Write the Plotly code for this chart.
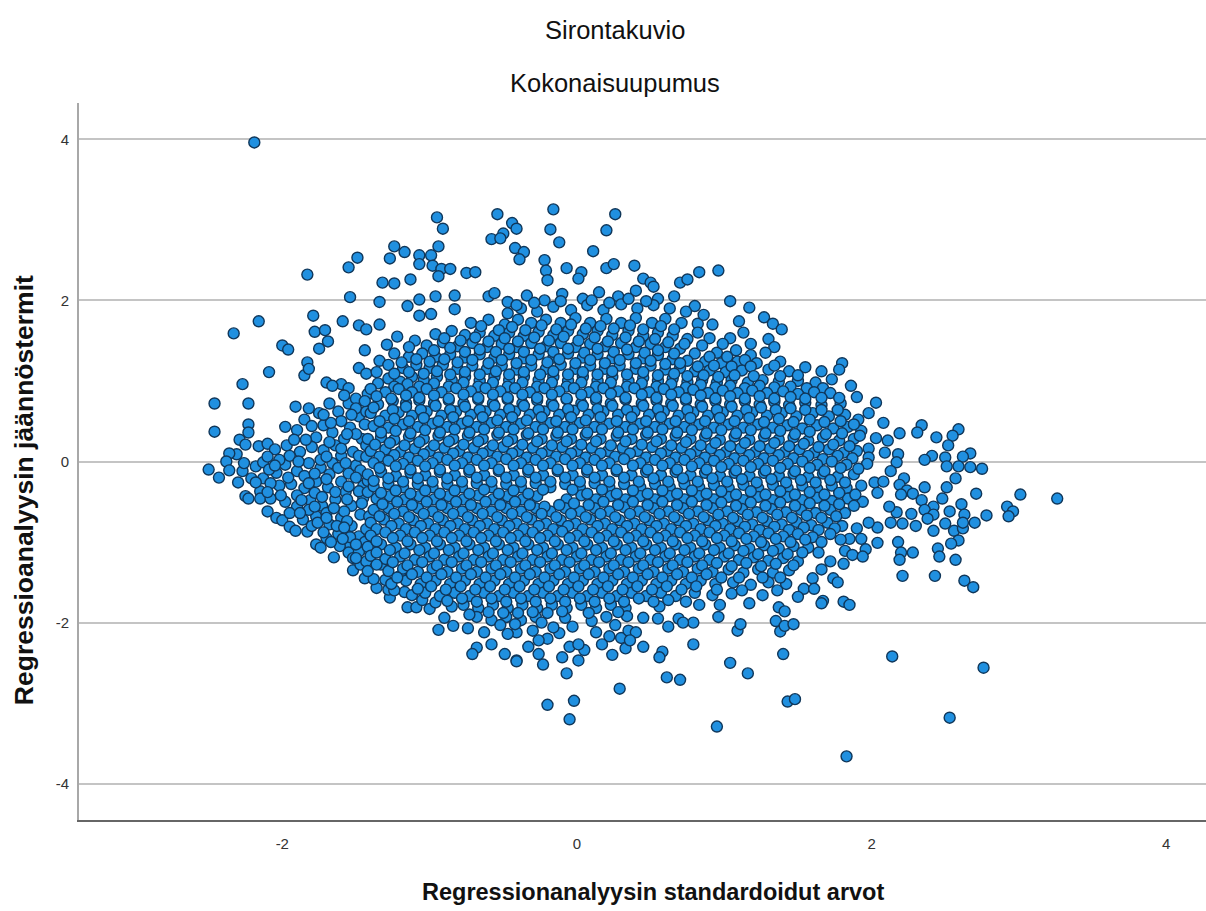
import plotly.graph_objects as go

outer_upper = [(-2.19,3.96),(-1.83,2.32),(-1.55,2.41),(-1.49,2.53),(-1.24,2.67),(-1.27,2.52),(-1.32,2.22),(-1.24,2.21),(-1.54,2.04),(-1.34,1.98),(-1.79,1.81),(-2.16,1.74),(-2.33,1.59),(-1.78,1.61),(-1.71,1.63),(-1.69,1.49),(-1.75,1.40),(-1.59,1.74),(-1.48,1.69),(-1.43,1.64),(-1.34,1.70),(-2.0,1.44),(-1.96,1.39),(-1.83,1.23),(-1.85,1.07),(-1.82,1.15),(-2.09,1.11),(-2.27,.96),(-1.29,1.45),(-1.44,1.38),(-1.34,1.25),(-1.48,1.16),(-1.43,1.09),(-1.36,1.11),(-1.70,.98),(-1.60,.96),(-1.55,.91),(-1.66,.94),
(-.16,3.13),(.26,3.07),(-.95,3.03),(-.91,2.89),(-.54,3.07),(-.44,2.96),(-.41,2.89),(-.50,2.83),(-.58,2.76),(-.52,2.77),(-.18,2.88),(-.12,2.72),(.20,2.87),(.11,2.61),(-.42,2.65),(-.36,2.6),(-.39,2.51),(-.94,2.67),(-1.17,2.6),(-1.07,2.56),(-1.07,2.45),(-.99,2.56),(-.98,2.43),(-.92,2.39),(-.94,2.30),(-.86,2.39),(-.75,2.34),(-.69,2.35),(-1.13,2.26),(-1.07,2.01),(-.96,2.05),(-.83,2.06),(-1.15,1.93),(-.83,1.89),(-1.07,1.81),(-.99,1.83),(-.60,2.05),(-.56,2.09),(-.22,2.50),(-.21,2.37),(-.20,2.25),(-.07,2.40),(.03,2.35),(.01,2.27),(.20,2.40),(.25,2.45),(.39,2.43),(.45,2.27),(.50,2.22),(.52,2.17),(.70,2.22),(.75,2.26),(.83,2.35),(.96,2.37),(1.04,1.99),(1.17,1.91),(.80,1.93),(1.27,1.79),(1.33,1.71),(1.39,1.64),(1.13,1.60),(.90,1.53),(1.04,1.53),(.95,1.35),(.82,1.71),(.82,1.60),(.99,1.46),(1.30,1.52),(1.34,1.42),(1.28,1.35)]

outer_right = [(1.80,1.22),(1.78,1.14),(1.66,1.12),(1.55,1.17),(1.73,1.02),(1.86,.94),(1.90,.80),(2.03,.73),(1.98,.60),(2.08,.48),(2.19,.35),(2.03,.29),(2.11,.26),(1.98,.16),(2.09,.11),(2.18,.09),(2.17,-.01),(1.98,.05),(1.97,-.03),(2.34,.45),(2.31,.36),(2.44,.30),(2.59,.40),(2.55,.32),(2.52,.20),(2.41,.07),(2.36,.02),(2.50,.05),(2.51,-.06),(2.67,.10),(2.62,.06),(2.67,-.07),(2.59,-.06),(2.75,-.09),(2.13,-.12),(2.57,-.21),(2.02,-.26),(2.08,-.25),(2.22,-.21),(2.19,-.29),(2.36,-.32),(2.51,-.32),(2.24,-.36),(2.28,-.40),(2.20,-.41),(2.04,-.39),(2.71,-.40),(3.01,-.41),(3.26,-.46),(2.48,-.46),(2.34,-.48),(2.92,-.56),(2.96,-.62),(2.93,-.68),(2.78,-.67),(2.70,-.76),(2.61,-.53),(2.63,-.66),(2.53,-.62),(2.42,-.56),(2.36,-.60),(2.42,-.66),(2.38,-.71),(2.27,-.65),(2.17,-.63),(2.12,-.56),(2.13,-.76),(2.21,-.77),(2.30,-.80),(2.42,-.86),(2.50,-.77),(2.56,-.86),(2.62,-.83),(2.62,-.76),(2.04,-.82),(1.98,-.76),(1.90,-.83),(2.18,-1.0),(2.04,-1.01),(1.93,-.96),(1.85,-.96),(1.79,-.97),(2.59,-.98),(2.54,-1.02),(2.45,-1.08),(2.46,-1.18),(2.57,-1.22),(2.28,-1.13),(2.20,-1.13),(2.19,-1.22),(2.21,-1.42),(2.43,-1.42),(2.63,-1.48),(2.69,-1.56),(1.96,-1.09),(1.82,-1.11),(1.87,-1.16),(1.94,-1.18),(1.72,-1.24),(1.64,-1.13),(1.81,-1.27),(1.66,-1.34),(1.74,-1.45),(1.77,-1.50),(1.60,-1.45),(1.54,-1.58),(1.61,-1.58),(1.67,-1.73),(1.81,-1.74),(1.85,-1.78)]

outer_lower = [(-.20,-3.02),(-.02,-2.97),(-.05,-3.20),(.29,-2.82),(.61,-2.68),(.70,-2.71),(-.07,-2.63),(-.23,-2.52),(.01,-2.47),(-.41,-2.47),(-.10,-2.43),(.05,-2.34),(.24,-2.40),(.33,-2.32),(.45,-2.30),(.58,-2.36),(.56,-2.43),(.79,-2.27),(1.04,-2.50),(1.16,-2.63),(1.40,-2.39),(1.09,-2.10),(1.11,-2.02),(1.35,-1.98),(1.38,-2.11),(1.41,-2.04),(1.47,-2.02),(1.43,-2.98),(1.48,-2.95),(.95,-3.29),(1.83,-3.66),(2.14,-2.42),(2.53,-3.18),(2.76,-2.56),(-.49,-2.39),(-.26,-2.39),(-.05,-2.30),(.01,-2.27),(.45,-1.94),(.96,-1.93),(.79,-2.0),(.62,-2.05),(.69,-1.95),(.72,-2.0),(1.17,-1.76),(1.37,-1.81),(1.41,-1.86),(1.66,-1.76),(.83,-1.78),(.97,-1.78),(.22,-2.17),(.30,-2.19),(.26,-2.03),(.13,-2.12),(-.12,-2.13),(.35,-2.10),(-.03,-2.05),(.10,-1.98),(.40,-2.12),(-.30,-2.10),(.17,-2.27),(.36,-2.22)]

outer_left = [(-2.50,-.10),(-2.43,-.20),(-2.46,.37),(-2.46,.72),(-2.23,.72),(-1.91,.68),(-2.23,.46),(-2.23,.36),(-2.29,.27),(-2.25,.21),(-2.16,.19),(-2.10,.22),(-2.05,.15),(-2.31,.09),(-2.36,.10),(-2.38,0),(-2.36,-.11),(-2.27,-.12),(-2.30,-.26),(-2.21,-.21),(-2.18,-.06),(-2.13,-.01),(-2.13,-.21),(-2.04,-.14),(-2.25,-.43),(-2.23,-.46),(-2.15,-.37),(-2.15,-.46),(-2.08,-.46),(-2.10,-.62),(-2.04,-.70),(-2.0,-.73),(-1.95,-.81),(-1.91,-.86),(-1.83,-.87),(-1.77,-1.03),(-1.74,-1.07),(-1.65,-1.19),(-1.52,-1.35),(-1.44,-1.45),(-1.36,-1.57),(-1.27,-1.69),(-1.15,-1.81),(-1.09,-1.81),(-1.0,-1.83),(-.94,-2.09),(-.84,-2.04),(-.74,-2.07),(-.63,-2.12),(-.68,-2.31),(-.71,-2.39),(-.58,-2.27),(-.41,-2.48),(-.41,-2.12),(-.47,-2.14),(-.33,-2.30),(-.16,-2.06),(-.20,-2.20),(-.26,-2.22),(-1.98,.43),(-1.90,.39),(-1.85,.52),(-1.77,.30),(-1.72,.45),(-1.66,.36),(-1.62,.62),(-1.55,.72),(-1.97,.20),(-1.88,.12),(-1.80,.18),(-1.72,.14),(-1.64,.20),(-1.98,-.04),(-1.90,-.12),(-1.82,-.02),(-1.74,-.08),(-1.66,-.02),(-1.94,-.28),(-1.85,-.33),(-1.77,-.25),(-1.69,-.32),(-1.60,-.25),(-1.98,-.50),(-1.90,-.56),(-1.81,-.48),(-1.73,-.55),(-1.64,-.47),(-1.86,-.72),(-1.77,-.68),(-1.68,-.78),(-1.60,-.70),(-1.70,-.95),(-1.62,-.90),(-1.55,-1.02),(-1.48,-.93),(-1.53,-.80),(-1.47,-.66),(-1.53,-.55),(-1.55,-.15),(-1.50,-.05),(-1.52,.12),(-1.46,.28),(-1.54,.42),(-1.48,.56),(-1.45,-.30),(-1.45,-.45)]

wing_fill = [(-1.58,.82),(-1.50,.78),(-1.68,.72),(-1.75,.60),(-1.82,.66),(-1.60,.50),(-1.42,.84),(-1.68,.24),(-1.60,.07),(-1.95,.07),(-2.02,.02),(-2.09,-.10),(-2.02,-.30),(-2.08,-.27),(-1.90,-.42),(-1.78,-.39),(-1.68,-.16),(-1.57,-.38),(-1.58,-.62),(-1.70,-.64),(-1.82,-.60),(-1.95,-.64),(-1.80,-.80),(-1.72,-.88),(-1.61,-1.05),(-1.55,-1.13),(-1.47,-1.28),(-1.43,-1.08),(-1.38,-1.46),(-1.33,-1.28),(-1.28,-1.59),(-1.17,-1.62),(-1.20,-1.42),(-1.05,-1.72),(-.96,-1.75),(-1.85,-.18),(-1.58,.28),(-1.62,-.08),(-1.74,.02)]

wing_extra = [(-1.50,.66),(-1.43,.62),(-1.53,.58),(-1.44,.46),(-1.50,.34),(-1.43,.20),(-1.48,.07),(-1.43,.06),(-1.47,-.11),(-1.50,-.20),(-1.42,-.24),(-1.48,-.37),(-1.42,-.38),(-1.46,-.52),(-1.41,-.68),(-1.43,-.84),(-1.44,-1.00),(-1.54,-.94),(-1.48,-1.12),(-1.43,-1.24),(-1.56,-.74),(-1.56,-.47),(-1.55,-.31),(-1.57,-.02),(-1.60,.16),(-1.56,.34),(-1.67,.48),(-1.72,.58),(-1.80,.44),(-1.84,.27),(-1.92,.27),(-1.70,.06),(-1.78,-.15),(-1.70,-.22),(-1.82,-.27),(-1.64,-.38),(-1.73,-.44),(-1.87,-.48),(-1.78,-.56),(-1.65,-.58),(-1.63,-.80),(-1.76,-.76),(-1.88,-.64),(-1.70,-.70),(-1.67,-1.00),(-1.59,-.96),(-2.05,-.05),(-1.96,-.20),(-2.01,-.42),(-2.10,-.38),(-2.18,-.26),(-2.26,-.02),(-2.10,.06),(-1.89,.00),(-1.58,-.82),(-1.50,-1.03),(-1.52,-1.20),(-1.42,-1.36),(-1.30,-1.47),(-1.24,-1.60)]

row_a = [(-.47,1.98),(-.34,2.06),(-.22,2.00),(-.10,2.08),(.04,2.02),(.15,2.10),(.28,2.05),(.40,2.12),(.55,2.02),(.66,2.05),(-.47,1.84),(-.38,1.90),(-.27,1.86),(-.16,1.92),(-.04,1.88),(.07,1.94),(.18,1.88),(.30,1.95),(.41,1.90),(.52,1.94),(.63,1.90),(.74,1.86),(.86,1.82),
(-.72,1.72),(-.60,1.76),(-.49,1.70),(-.40,1.76),(-.31,1.72),(-.21,1.76),(-.11,1.72),(-.01,1.78),(.09,1.72),(.20,1.77),(.30,1.72),(.40,1.78),(.51,1.72),(.60,1.77),(.71,1.72),(.92,1.70),(1.10,1.74),
(-.96,1.58),(-.85,1.62),(-.76,1.57),(-.66,1.60),(-.56,1.56),(-.46,1.60),(-.36,1.56),(-.26,1.61),(-.16,1.57),(-.06,1.62),(.04,1.58),(.14,1.62),(.24,1.57),(.35,1.62),(.45,1.56),(.55,1.60),(.65,1.56),(.75,1.52),(.85,1.44),(1.18,1.46),
(-1.22,1.55),(-1.10,1.50),(-1.02,1.44),(-.91,1.48),(-.81,1.43),(-.71,1.47),(-.61,1.42),(-.51,1.46),(-.41,1.42),(-.31,1.47),(-.21,1.43),(-.11,1.47),(-.01,1.42),(.09,1.46),(.19,1.43),(.30,1.47),(.40,1.42),(.50,1.46),(.60,1.42),(.70,1.40),(.80,1.34),(1.08,1.38),(1.18,1.32),
(-1.24,1.34),(-1.14,1.30),(-1.05,1.34),(-.96,1.30),(-.86,1.33),(-.76,1.29),(-.66,1.33),(-.56,1.29),(-.46,1.33),(-.36,1.28),(-.26,1.33),(-.16,1.29),(-.06,1.34),(.04,1.29),(.14,1.33),(.24,1.28),(.35,1.33),(.45,1.28),(.55,1.32),(.65,1.27),(.75,1.25),(.87,1.24),(.98,1.22),(1.09,1.24),(1.22,1.22),(1.38,1.24),
(-1.28,1.20),(-1.18,1.16),(-1.09,1.20),(-1.00,1.16),(-.91,1.20),(-.81,1.15),(-.71,1.19),(-.61,1.15),(-.51,1.19),(-.41,1.14),(-.31,1.19),(-.21,1.15),(-.11,1.20),(-.01,1.15),(.09,1.19),(.19,1.15),(.29,1.19),(.40,1.15),(.50,1.19),(.60,1.14),(.70,1.16),(.80,1.12),(.90,1.13),(1.01,1.11),(1.12,1.13),(1.30,1.14),(1.44,1.12),
(-1.28,1.03),(-1.20,.99),(-1.12,1.05),(-1.04,1.01),(-.95,1.05),(-.85,1.01),(-.76,1.05),(-.66,1.00),(-.56,1.05),(-.46,1.01),(-.36,1.05),(-.26,1.01),(-.16,1.05),(-.06,1.00),(.04,1.05),(.14,1.00),(.24,1.05),(.35,1.00),(.45,1.04),(.55,1.00),(.65,1.03),(.75,.99),(.85,1.01),(.95,.98),(1.05,1.01),(1.16,.98),(1.26,1.01),(1.37,.99),(1.50,1.00),(1.62,.98)]

row_b = [(-1.40,.90),(-1.30,.86),(-1.21,.90),(-1.12,.86),(-1.02,.90),(-.92,.86),(-.82,.91),(-.72,.87),(-.62,.91),(-.52,.87),(-.42,.91),(-.32,.86),(-.22,.91),(-.12,.87),(-.02,.91),(.08,.86),(.18,.91),(.28,.87),(.39,.91),(.49,.86),(.59,.90),(.69,.86),(.79,.89),(.89,.85),(.99,.88),(1.09,.85),(1.19,.88),(1.29,.85),(1.40,.87),(1.50,.84),(1.61,.86),(1.72,.85),
(-1.44,.75),(-1.35,.71),(-1.25,.75),(-1.16,.72),(-1.07,.76),(-.97,.72),(-.87,.76),(-.77,.72),(-.67,.77),(-.57,.72),(-.47,.77),(-.37,.72),(-.27,.76),(-.17,.72),(-.07,.77),(.03,.72),(.13,.76),(.23,.72),(.33,.77),(.44,.72),(.54,.76),(.64,.72),(.74,.76),(.84,.71),(.94,.75),(1.04,.71),(1.14,.75),(1.24,.71),(1.34,.74),(1.44,.70),(1.55,.73),(1.66,.70),(1.79,.72),
(-1.40,.60),(-1.30,.57),(-1.21,.61),(-1.12,.57),(-1.02,.62),(-.92,.57),(-.82,.62),(-.72,.58),(-.62,.62),(-.52,.58),(-.42,.62),(-.32,.58),(-.22,.62),(-.12,.58),(-.02,.63),(.08,.58),(.18,.62),(.28,.58),(.39,.62),(.49,.58),(.59,.62),(.69,.57),(.79,.61),(.89,.57),(.99,.61),(1.09,.57),(1.19,.61),(1.29,.57),(1.39,.60),(1.49,.56),(1.60,.60),(1.71,.56),(1.82,.58),(1.91,.52),
(-1.38,.44),(-1.28,.42),(-1.18,.46),(-1.08,.43),(-.98,.47),(-.88,.43),(-.78,.47),(-.68,.43),(-.58,.48),(-.48,.43),(-.38,.47),(-.28,.43),(-.18,.48),(-.08,.43),(.02,.48),(.12,.43),(.22,.47),(.33,.43),(.43,.47),(.53,.43),(.63,.47),(.73,.43),(.83,.46),(.93,.42),(1.03,.46),(1.13,.42),(1.23,.46),(1.33,.42),(1.43,.45),(1.53,.41),(1.63,.45),(1.74,.41),(1.84,.43),(1.93,.38),
(-1.42,.28),(-1.33,.30),(-1.24,.27),(-1.14,.31),(-1.04,.28),(-.94,.32),(-.84,.28),(-.74,.32),(-.64,.28),(-.54,.33),(-.44,.28),(-.34,.33),(-.24,.28),(-.14,.32),(-.04,.28),(.06,.33),(.16,.28),(.27,.32),(.37,.28),(.47,.33),(.57,.28),(.67,.32),(.77,.28),(.87,.31),(.97,.27),(1.07,.31),(1.17,.27),(1.27,.31),(1.37,.27),(1.47,.30),(1.57,.26),(1.67,.30),(1.78,.26),(1.88,.28),
(-1.40,.13),(-1.30,.15),(-1.20,.12),(-1.10,.16),(-1.00,.13),(-.90,.17),(-.80,.13),(-.70,.17),(-.60,.13),(-.50,.18),(-.40,.13),(-.30,.17),(-.20,.13),(-.10,.18),(.00,.13),(.10,.17),(.21,.13),(.31,.17),(.41,.13),(.51,.18),(.61,.13),(.71,.17),(.81,.13),(.91,.16),(1.01,.12),(1.11,.16),(1.21,.12),(1.31,.16),(1.41,.12),(1.51,.15),(1.61,.11),(1.71,.15),(1.81,.11),(1.90,.13)]

row_c = [(-1.38,-.02),(-1.28,.01),(-1.18,-.03),(-1.08,.01),(-.98,-.02),(-.88,.02),(-.78,-.02),(-.68,.02),(-.58,-.02),(-.48,.03),(-.38,-.02),(-.28,.02),(-.18,-.02),(-.08,.03),(.02,-.02),(.12,.02),(.22,-.02),(.32,.03),(.43,-.02),(.53,.02),(.63,-.02),(.73,.02),(.83,-.02),(.93,.01),(1.03,-.03),(1.13,.01),(1.23,-.03),(1.33,.01),(1.43,-.03),(1.53,0),(1.63,-.04),(1.73,0),(1.83,-.04),
(-1.42,-.16),(-1.33,-.13),(-1.23,-.18),(-1.13,-.14),(-1.03,-.17),(-.93,-.13),(-.83,-.17),(-.73,-.13),(-.63,-.17),(-.53,-.12),(-.43,-.17),(-.33,-.13),(-.23,-.17),(-.13,-.12),(-.03,-.17),(.07,-.13),(.17,-.17),(.27,-.12),(.37,-.17),(.47,-.13),(.57,-.17),(.67,-.13),(.77,-.17),(.87,-.14),(.97,-.18),(1.07,-.14),(1.17,-.18),(1.27,-.14),(1.37,-.18),(1.47,-.15),(1.57,-.19),(1.67,-.15),(1.77,-.19),(1.88,-.16),
(-1.38,-.31),(-1.28,-.28),(-1.18,-.32),(-1.08,-.28),(-.98,-.32),(-.88,-.28),(-.78,-.32),(-.68,-.27),(-.58,-.32),(-.48,-.28),(-.38,-.32),(-.28,-.27),(-.18,-.32),(-.08,-.28),(.02,-.32),(.12,-.27),(.22,-.32),(.32,-.28),(.43,-.32),(.53,-.28),(.63,-.32),(.73,-.28),(.83,-.32),(.93,-.29),(1.03,-.33),(1.13,-.29),(1.23,-.33),(1.33,-.29),(1.43,-.33),(1.53,-.30),(1.63,-.34),(1.73,-.30),(1.83,-.33),(1.93,-.30),
(-1.36,-.46),(-1.27,-.43),(-1.17,-.47),(-1.07,-.43),(-.97,-.47),(-.87,-.43),(-.77,-.47),(-.67,-.42),(-.57,-.47),(-.47,-.43),(-.37,-.47),(-.27,-.43),(-.07,-.47),(.03,-.42),(.13,-.47),(.23,-.43),(.33,-.47),(.43,-.43),(.53,-.47),(.63,-.43),(.73,-.47),(.83,-.43),(.93,-.47),(1.03,-.44),(1.13,-.48),(1.23,-.44),(1.33,-.48),(1.43,-.44),(1.53,-.48),(1.63,-.45),(1.73,-.49),(1.84,-.46),(1.94,-.50),
(-1.38,-.60),(-1.28,-.58),(-1.18,-.62),(-1.08,-.58),(-.98,-.62),(-.88,-.58),(-.78,-.62),(-.68,-.58),(-.58,-.62),(-.48,-.58),(-.38,-.62),(-.28,-.58),(-.18,-.62),(-.08,-.58),(.02,-.62),(.12,-.58),(.22,-.62),(.32,-.57),(.42,-.62),(.52,-.58),(.62,-.62),(.72,-.58),(.82,-.62),(.92,-.58),(1.02,-.62),(1.12,-.59),(1.22,-.63),(1.32,-.59),(1.42,-.63),(1.52,-.60),(1.62,-.64),(1.72,-.60),(1.82,-.64),
(-1.40,-.76),(-1.31,-.72),(-1.21,-.77),(-1.11,-.73),(-1.01,-.77),(-.91,-.73),(-.81,-.77),(-.71,-.73),(-.61,-.77),(-.51,-.73),(-.41,-.77),(-.31,-.72),(-.21,-.77),(-.11,-.73),(-.01,-.77),(.09,-.72),(.19,-.77),(.29,-.73),(.39,-.77),(.49,-.73),(.59,-.77),(.69,-.73),(.79,-.77),(.89,-.73),(.99,-.77),(1.09,-.74),(1.19,-.78),(1.29,-.74),(1.39,-.78),(1.49,-.75),(1.59,-.79),(1.70,-.76),(1.80,-.80)]

row_d = [(-1.40,-.92),(-1.30,-.88),(-1.20,-.92),(-1.10,-.88),(-1.00,-.92),(-.90,-.88),(-.80,-.92),(-.70,-.88),(-.60,-.92),(-.50,-.88),(-.40,-.92),(-.30,-.88),(-.20,-.92),(-.10,-.87),(.00,-.92),(.10,-.88),(.20,-.92),(.30,-.88),(.40,-.92),(.50,-.88),(.60,-.92),(.70,-.88),(.80,-.92),(.90,-.88),(1.00,-.92),(1.10,-.89),(1.20,-.93),(1.30,-.89),(1.40,-.93),(1.50,-.90),(1.60,-.94),(1.72,-.90),
(-1.42,-1.06),(-1.33,-1.03),(-1.23,-1.07),(-1.13,-1.03),(-1.03,-1.07),(-.93,-1.03),(-.83,-1.07),(-.73,-1.03),(-.63,-1.07),(-.53,-1.03),(-.43,-1.07),(-.33,-1.03),(-.23,-1.07),(-.13,-1.03),(-.03,-1.07),(.07,-1.03),(.17,-1.07),(.27,-1.03),(.37,-1.07),(.47,-1.03),(.57,-1.07),(.67,-1.03),(.77,-1.07),(.87,-1.03),(.97,-1.07),(1.07,-1.04),(1.17,-1.08),(1.27,-1.04),(1.37,-1.08),(1.47,-1.05),(1.57,-1.07),
(-1.50,-1.20),(-1.40,-1.17),(-1.30,-1.21),(-1.20,-1.18),(-1.10,-1.22),(-1.00,-1.18),(-.90,-1.22),(-.80,-1.18),(-.70,-1.22),(-.60,-1.18),(-.50,-1.22),(-.40,-1.18),(-.30,-1.22),(-.20,-1.18),(-.10,-1.22),(.00,-1.18),(.10,-1.22),(.20,-1.18),(.30,-1.22),(.40,-1.18),(.50,-1.22),(.60,-1.18),(.70,-1.22),(.80,-1.18),(.90,-1.22),(1.00,-1.18),(1.10,-1.22),(1.20,-1.19),(1.30,-1.23),(1.40,-1.20),(1.50,-1.24),
(-1.28,-1.36),(-1.18,-1.33),(-1.08,-1.37),(-.98,-1.33),(-.88,-1.37),(-.78,-1.33),(-.68,-1.37),(-.58,-1.33),(-.48,-1.37),(-.38,-1.33),(-.28,-1.37),(-.18,-1.33),(-.08,-1.37),(.02,-1.33),(.12,-1.37),(.22,-1.33),(.32,-1.37),(.42,-1.33),(.52,-1.37),(.62,-1.33),(.72,-1.37),(.82,-1.33),(.92,-1.37),(1.03,-1.34),(1.13,-1.38),(1.23,-1.34),(1.33,-1.38),(1.44,-1.35),
(-1.26,-1.52),(-1.16,-1.48),(-1.06,-1.52),(-.96,-1.48),(-.86,-1.52),(-.76,-1.48),(-.66,-1.52),(-.56,-1.48),(-.46,-1.52),(-.36,-1.48),(-.26,-1.52),(-.16,-1.48),(-.06,-1.52),(.04,-1.48),(.14,-1.52),(.24,-1.48),(.34,-1.52),(.44,-1.48),(.54,-1.52),(.64,-1.48),(.74,-1.52),(.84,-1.48),(.94,-1.52),(1.06,-1.50),(1.18,-1.53),(1.30,-1.50),(1.42,-1.52),
(-1.12,-1.66),(-1.03,-1.63),(-.93,-1.67),(-.83,-1.63),(-.73,-1.67),(-.63,-1.63),(-.53,-1.67),(-.43,-1.63),(-.33,-1.67),(-.23,-1.63),(-.13,-1.67),(-.03,-1.63),(.07,-1.67),(.17,-1.63),(.27,-1.67),(.37,-1.63),(.47,-1.67),(.57,-1.63),(.67,-1.67),(.80,-1.63),(.92,-1.66),(1.05,-1.64),(1.26,-1.66),(1.50,-1.68),
(-.85,-1.80),(-.77,-1.78),(-.67,-1.82),(-.57,-1.78),(-.47,-1.82),(-.37,-1.78),(-.27,-1.82),(-.17,-1.78),(-.07,-1.82),(.03,-1.78),(.13,-1.82),(.23,-1.78),(.33,-1.82),(.56,-1.80),
(-.90,-1.94),(-.68,-1.93),(-.58,-1.97),(-.48,-1.93),(-.38,-1.97),(-.28,-1.93),(-.08,-1.94),(.20,-1.93),(.34,-1.92),(.55,-1.95)]

fill_a = [(-.41,1.94),(-.29,1.97),(-.11,1.99),(.10,2.00),(.22,1.97),(.35,2.02),(.47,1.99),(-.65,1.68),(-.53,1.63),(-.44,1.67),(-.35,1.63),(-.24,1.69),(-.14,1.64),(-.04,1.70),(.06,1.65),(.16,1.68),(.25,1.65),(.36,1.69),(.45,1.64),(.57,1.68),(.66,1.64),(-.90,1.53),(-.79,1.50),(-.69,1.54),(-.60,1.49),(-.49,1.53),(-.40,1.49),(-.29,1.54),(-.19,1.50),(-.09,1.55),(.01,1.50),(.12,1.54),(.21,1.49),(.33,1.54),(.42,1.49),(.53,1.52),(.62,1.48),(.73,1.46),
(-1.14,1.42),(-.97,1.38),(-.86,1.41),(-.76,1.36),(-.66,1.39),(-.55,1.36),(-.46,1.40),(-.36,1.36),(-.25,1.40),(-.16,1.36),(-.06,1.40),(.05,1.35),(.14,1.40),(.25,1.36),(.34,1.39),(.46,1.35),(.55,1.38),(.66,1.34),(.90,1.30),(1.02,1.30),(1.14,1.26),
(-1.19,1.23),(-1.09,1.27),(-1.00,1.24),(-.90,1.27),(-.81,1.23),(-.71,1.26),(-.60,1.22),(-.51,1.26),(-.41,1.22),(-.31,1.26),(-.20,1.23),(-.12,1.27),(-.01,1.22),(.09,1.26),(.19,1.22),(.29,1.26),(.40,1.22),(.50,1.25),(.60,1.21),(.70,1.22),(.82,1.18),(.93,1.19),(1.05,1.18),(1.18,1.18),(1.34,1.19),
(-1.24,1.09),(-1.14,1.11),(-1.04,1.09),(-.95,1.12),(-.86,1.08),(-.76,1.11),(-.66,1.08),(-.55,1.12),(-.46,1.08),(-.36,1.11),(-.25,1.08),(-.16,1.12),(-.06,1.08),(.04,1.11),(.14,1.08),(.24,1.12),(.34,1.08),(.45,1.11),(.55,1.07),(.66,1.09),(.75,1.06),(.86,1.07),(.96,1.05),(1.07,1.07),(1.20,1.06),(1.38,1.06),(1.50,1.07),
(-1.35,.97),(-1.24,.93),(-1.15,.96),(-1.07,.93),(-.97,.97),(-.87,.93),(-.77,.98),(-.67,.93),(-.57,.98),(-.47,.93),(-.37,.98),(-.27,.93),(-.17,.98),(-.07,.93),(.03,.98),(.13,.93),(.23,.98),(.34,.93),(.44,.97),(.54,.93),(.64,.96),(.74,.92),(.84,.95),(.94,.92),(1.04,.94),(1.14,.91),(1.24,.94),(1.34,.92),(1.45,.93),(1.56,.91),(1.67,.91)]

fill_b = [(-1.36,.81),(-1.26,.78),(-1.16,.82),(-1.07,.79),(-.97,.82),(-.87,.78),(-.77,.83),(-.67,.79),(-.57,.83),(-.47,.79),(-.37,.83),(-.27,.79),(-.17,.83),(-.07,.78),(.03,.83),(.13,.79),(.23,.84),(.33,.79),(.44,.83),(.54,.79),(.64,.83),(.74,.78),(.84,.82),(.94,.78),(1.04,.81),(1.14,.78),(1.24,.81),(1.34,.78),(1.45,.80),(1.55,.78),(1.66,.79),(1.78,.79),
(-1.38,.67),(-1.25,.64),(-1.16,.68),(-1.06,.64),(-.96,.69),(-.86,.64),(-.76,.68),(-.66,.64),(-.56,.69),(-.46,.65),(-.36,.69),(-.26,.64),(-.16,.69),(-.06,.65),(.04,.69),(.14,.65),(.24,.69),(.34,.64),(.45,.69),(.55,.65),(.65,.69),(.75,.64),(.85,.68),(.95,.64),(1.05,.68),(1.15,.64),(1.25,.67),(1.35,.64),(1.45,.66),(1.55,.64),(1.66,.64),(1.77,.64),
(-1.34,.50),(-1.24,.53),(-1.14,.50),(-1.04,.54),(-.94,.50),(-.84,.55),(-.74,.50),(-.64,.55),(-.54,.51),(-.44,.55),(-.34,.51),(-.24,.55),(-.14,.50),(-.04,.55),(.06,.51),(.16,.55),(.27,.50),(.37,.55),(.47,.50),(.57,.55),(.67,.50),(.77,.54),(.87,.50),(.97,.54),(1.07,.50),(1.17,.54),(1.27,.49),(1.37,.53),(1.47,.49),(1.58,.52),(1.68,.49),(1.79,.50),(1.88,.46),
(-1.33,.36),(-1.23,.38),(-1.13,.35),(-1.03,.39),(-.93,.36),(-.83,.40),(-.73,.36),(-.63,.40),(-.53,.36),(-.43,.40),(-.33,.35),(-.23,.40),(-.13,.36),(-.03,.40),(.07,.36),(.17,.40),(.28,.36),(.38,.40),(.48,.36),(.58,.40),(.68,.36),(.78,.39),(.88,.35),(.98,.39),(1.08,.35),(1.18,.39),(1.28,.35),(1.38,.38),(1.48,.34),(1.58,.37),(1.69,.34),(1.80,.35),(1.92,.32),
(-1.37,.21),(-1.27,.23),(-1.17,.20),(-1.07,.24),(-.97,.20),(-.87,.25),(-.77,.21),(-.67,.25),(-.57,.20),(-.47,.25),(-.37,.21),(-.27,.25),(-.17,.20),(-.07,.25),(.03,.21),(.13,.25),(.23,.20),(.33,.25),(.44,.21),(.54,.25),(.64,.20),(.74,.24),(.84,.20),(.94,.23),(1.04,.19),(1.14,.23),(1.24,.19),(1.34,.23),(1.44,.19),(1.54,.22),(1.64,.18),(1.74,.21),(1.85,.19),
(-1.34,.06),(-1.24,.08),(-1.14,.05),(-1.04,.09),(-.94,.05),(-.84,.10),(-.74,.05),(-.64,.10),(-.54,.06),(-.44,.10),(-.34,.05),(-.24,.10),(-.14,.06),(-.04,.10),(.06,.05),(.16,.10),(.26,.06),(.36,.10),(.47,.05),(.57,.10),(.67,.05),(.77,.09),(.87,.05),(.97,.08),(1.07,.04),(1.17,.08),(1.27,.04),(1.37,.08),(1.47,.04),(1.57,.07),(1.67,.03),(1.77,.07),(1.87,.04)]

fill_c = [(-1.34,-.08),(-1.23,-.06),(-1.13,-.10),(-1.03,-.06),(-.93,-.10),(-.83,-.05),(-.73,-.10),(-.63,-.05),(-.53,-.10),(-.43,-.05),(-.33,-.10),(-.23,-.05),(-.13,-.10),(-.03,-.05),(.07,-.10),(.17,-.05),(.27,-.10),(.38,-.05),(.48,-.10),(.58,-.05),(.68,-.10),(.78,-.06),(.88,-.10),(.98,-.07),(1.08,-.11),(1.18,-.07),(1.28,-.11),(1.38,-.08),(1.48,-.12),(1.58,-.08),(1.68,-.12),(1.79,-.08),(1.91,-.09),
(-1.38,-.24),(-1.28,-.21),(-1.18,-.25),(-1.08,-.21),(-.98,-.25),(-.88,-.21),(-.78,-.25),(-.68,-.20),(-.58,-.25),(-.48,-.20),(-.38,-.25),(-.28,-.20),(-.18,-.25),(-.08,-.20),(.02,-.25),(.12,-.20),(.22,-.25),(.32,-.20),(.42,-.25),(.52,-.21),(.62,-.25),(.72,-.21),(.82,-.25),(.92,-.21),(1.02,-.25),(1.12,-.22),(1.22,-.26),(1.32,-.22),(1.42,-.26),(1.52,-.23),(1.62,-.26),(1.72,-.23),(1.82,-.26),
(-1.33,-.39),(-1.23,-.36),(-1.13,-.40),(-1.03,-.36),(-.93,-.40),(-.83,-.36),(-.73,-.40),(-.63,-.35),(-.53,-.40),(-.43,-.36),(-.33,-.40),(-.23,-.35),(-.03,-.35),(.07,-.40),(.17,-.35),(.27,-.40),(.38,-.36),(.48,-.40),(.58,-.36),(.68,-.40),(.78,-.36),(.88,-.40),(.98,-.37),(1.08,-.41),(1.18,-.37),(1.28,-.41),(1.38,-.37),(1.48,-.41),(1.58,-.38),(1.68,-.41),(1.78,-.39),(1.89,-.41),
(-1.32,-.53),(-1.22,-.50),(-1.12,-.54),(-1.02,-.50),(-.92,-.54),(-.82,-.50),(-.72,-.54),(-.62,-.50),(-.52,-.54),(-.42,-.50),(-.32,-.54),(-.22,-.56),(-.12,-.54),(-.02,-.52),(.08,-.54),(.18,-.50),(.28,-.54),(.38,-.50),(.48,-.54),(.58,-.50),(.68,-.54),(.78,-.50),(.88,-.54),(.98,-.51),(1.08,-.55),(1.18,-.51),(1.28,-.55),(1.38,-.51),(1.48,-.55),(1.58,-.52),(1.68,-.55),(1.78,-.53),(1.88,-.55),
(-1.34,-.68),(-1.24,-.65),(-1.14,-.69),(-1.04,-.65),(-.94,-.69),(-.84,-.65),(-.74,-.69),(-.64,-.65),(-.54,-.69),(-.44,-.65),(-.34,-.69),(-.24,-.65),(-.14,-.69),(-.04,-.65),(.06,-.69),(.16,-.65),(.26,-.69),(.36,-.65),(.46,-.69),(.56,-.65),(.66,-.69),(.76,-.65),(.86,-.69),(.96,-.66),(1.06,-.70),(1.16,-.66),(1.26,-.70),(1.36,-.66),(1.46,-.70),(1.56,-.67),(1.66,-.70),(1.76,-.68),
(-1.36,-.84),(-1.26,-.80),(-1.16,-.84),(-1.06,-.80),(-.96,-.84),(-.86,-.80),(-.76,-.84),(-.66,-.80),(-.56,-.84),(-.46,-.80),(-.36,-.84),(-.26,-.80),(-.16,-.84),(-.06,-.80),(.04,-.84),(.14,-.80),(.24,-.84),(.34,-.80),(.44,-.84),(.54,-.80),(.64,-.84),(.74,-.80),(.84,-.84),(.94,-.80),(1.04,-.84),(1.14,-.81),(1.24,-.85),(1.34,-.81),(1.44,-.85),(1.54,-.82),(1.64,-.85),(1.75,-.83)]

fill_d = [(-1.36,-.99),(-1.25,-.95),(-1.15,-.99),(-1.05,-.95),(-.95,-.99),(-.85,-.95),(-.75,-.99),(-.65,-.95),(-.55,-.99),(-.45,-.95),(-.35,-.99),(-.25,-.95),(-.15,-.99),(-.05,-.95),(.05,-.99),(.15,-.95),(.25,-.99),(.35,-.95),(.45,-.99),(.55,-.95),(.65,-.99),(.75,-.95),(.85,-.99),(.95,-.95),(1.05,-.99),(1.15,-.96),(1.25,-1.00),(1.35,-.96),(1.45,-1.00),(1.55,-.97),(1.66,-1.00),
(-1.36,-1.13),(-1.27,-1.10),(-1.17,-1.14),(-1.07,-1.10),(-.97,-1.14),(-.87,-1.10),(-.77,-1.14),(-.67,-1.10),(-.57,-1.14),(-.47,-1.10),(-.37,-1.14),(-.27,-1.10),(-.17,-1.14),(-.07,-1.10),(.03,-1.14),(.13,-1.10),(.23,-1.14),(.33,-1.10),(.43,-1.14),(.53,-1.10),(.63,-1.14),(.73,-1.10),(.83,-1.14),(.93,-1.10),(1.03,-1.14),(1.13,-1.11),(1.23,-1.15),(1.33,-1.11),(1.43,-1.15),(1.53,-1.13),
(-1.36,-1.28),(-1.25,-1.25),(-1.15,-1.29),(-1.05,-1.25),(-.95,-1.29),(-.85,-1.25),(-.75,-1.29),(-.65,-1.25),(-.55,-1.29),(-.45,-1.25),(-.35,-1.29),(-.25,-1.25),(-.15,-1.29),(-.05,-1.25),(.05,-1.29),(.15,-1.25),(.25,-1.29),(.35,-1.25),(.45,-1.29),(.55,-1.25),(.65,-1.29),(.75,-1.25),(.85,-1.29),(.95,-1.26),(1.05,-1.30),(1.15,-1.26),(1.25,-1.30),(1.35,-1.27),(1.47,-1.29),
(-1.22,-1.44),(-1.12,-1.40),(-1.02,-1.44),(-.92,-1.40),(-.82,-1.44),(-.72,-1.40),(-.62,-1.44),(-.52,-1.40),(-.42,-1.44),(-.32,-1.40),(-.22,-1.44),(-.12,-1.40),(-.02,-1.44),(.08,-1.40),(.18,-1.44),(.28,-1.40),(.38,-1.44),(.48,-1.40),(.58,-1.44),(.68,-1.40),(.78,-1.44),(.88,-1.40),(.98,-1.44),(1.10,-1.44),(1.26,-1.44),(1.38,-1.44),
(-1.08,-1.58),(-.99,-1.55),(-.89,-1.59),(-.79,-1.55),(-.69,-1.59),(-.59,-1.55),(-.49,-1.59),(-.39,-1.55),(-.29,-1.59),(-.19,-1.55),(-.09,-1.59),(.01,-1.55),(.11,-1.59),(.21,-1.55),(.31,-1.59),(.41,-1.55),(.51,-1.59),(.61,-1.55),(.71,-1.59),(.81,-1.55),(.95,-1.59),(1.12,-1.60),(1.36,-1.60),
(-.88,-1.73),(-.78,-1.70),(-.68,-1.74),(-.58,-1.70),(-.48,-1.74),(-.38,-1.70),(-.28,-1.74),(-.18,-1.70),(-.08,-1.74),(.02,-1.70),(.12,-1.74),(.22,-1.70),(.32,-1.74),(.42,-1.70),(.52,-1.74),(.62,-1.72),(.74,-1.74),
(-.60,-1.87),(-.50,-1.88),(-.40,-1.88),(-.30,-1.87),(-.20,-1.88),(-.10,-1.86),(.08,-1.88),(.28,-1.87),(-.42,-2.02),(-.24,-2.00),(-.52,-2.03),(-.73,-1.90)]

x_ticks = [-2, 0, 2, 4]
y_ticks = [-4, -2, 0, 2, 4]
x_tick_labels = ["-2", "0", "2", "4"]
y_tick_labels = ["-4", "-2", "0", "2", "4"]
title_main = "Sirontakuvio"
title_sub = "Kokonaisuupumus"
x_title = "Regressionanalyysin standardoidut arvot"
y_title = "Regressioanalyysin jäännöstermit"

points = (outer_upper + outer_right + outer_lower + outer_left + wing_fill + wing_extra + row_a + fill_a
          + row_b + fill_b + row_c + fill_c + row_d + fill_d)
x_values = [p[0] for p in points]
y_values = [p[1] for p in points]

fig = go.Figure(go.Scatter(
    x=x_values, y=y_values, mode="markers",
    marker=dict(size=11, color="#2090e0", line=dict(color="#10375a", width=1.4)),
    hoverinfo="skip", showlegend=False))

FONT = "Liberation Sans, Arial, sans-serif"
def label(text, x, y, size, bold=False, angle=0):
    return dict(text=text, xref="paper", yref="paper", x=x, y=y, xanchor="center", yanchor="middle",
                textangle=angle, showarrow=False,
                font=dict(size=size, color="#111111", family=FONT, weight="bold" if bold else "normal"))

fig.update_layout(
    width=1206, height=911, margin=dict(l=79, r=0, t=103, b=91),
    paper_bgcolor="white", plot_bgcolor="white", showlegend=False,
    font=dict(family=FONT, color="#222222"),
    annotations=[
        label(title_main, .4756, 1.1018, 25.5),
        label(title_sub, .4756, 1.0279, 25.5),
        label(x_title, .5093, -.1004, 23.5, bold=True),
        label(y_title, -.0488, .46, 26.5, bold=True, angle=-90),
    ],
    xaxis=dict(range=[-3.38, 4.27], tickmode="array", tickvals=x_ticks, ticktext=x_tick_labels, showgrid=False, zeroline=False,
               showline=True, linecolor="#666666", linewidth=2, ticks="outside", ticklen=9, tickcolor="rgba(0,0,0,0)",
               tickfont=dict(size=15, color="#333333", family=FONT)),
    yaxis=dict(range=[-4.45, 4.45], tickmode="array", tickvals=y_ticks, ticktext=y_tick_labels, showgrid=True, gridcolor="#c4c4c4", gridwidth=2, zeroline=False,
               showline=True, linecolor="#a8a8a8", linewidth=2, ticks="outside", ticklen=5, tickcolor="rgba(0,0,0,0)",
               tickfont=dict(size=15, color="#333333", family=FONT)),
)
fig.write_html("out.html", config={"displayModeBar": False},
               post_script="document.body.style.margin='0';document.documentElement.style.overflow='hidden';")
